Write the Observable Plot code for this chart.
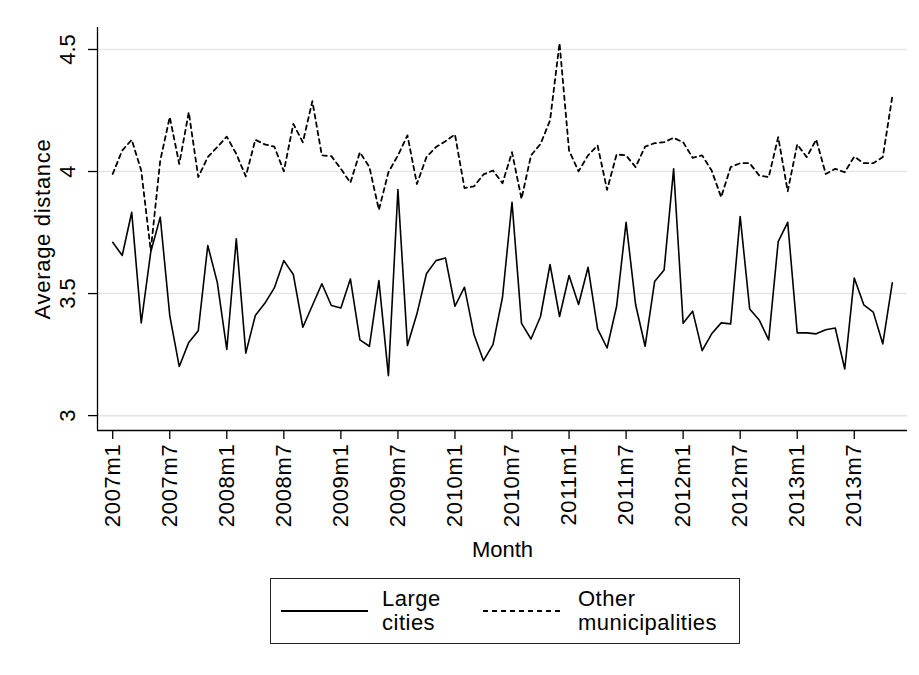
<!DOCTYPE html>
<html><head><meta charset="utf-8">
<script src="https://cdn.jsdelivr.net/npm/d3@7"></script>
<script src="https://cdn.jsdelivr.net/npm/@observablehq/plot@0.6"></script>
<style>
body{margin:0;background:#fff;font-family:"Liberation Sans",Arial,sans-serif;}
#wrap{position:relative;width:919px;height:675px;overflow:hidden;}
#legend{position:absolute;left:270px;top:578px;width:468px;height:64px;border:1.3px solid #222;box-sizing:content-box;}
#legend svg{position:absolute;left:0;top:0;}
.lab{position:absolute;font-size:22px;line-height:24px;letter-spacing:0.5px;color:#000;top:8px;}
.sp{letter-spacing:0.7px;}
</style></head><body>
<div id="wrap"><div id="chart"></div>
<div id="legend">
<svg width="468" height="64">
<line x1="10" x2="97" y1="32" y2="32" stroke="#000" stroke-width="1.8"/>
<line x1="212" x2="292" y1="32" y2="32" stroke="#000" stroke-width="1.8" stroke-dasharray="5,4"/>
</svg>
<div class="lab" style="left:111px">Large<br>cities</div>
<div class="lab" style="left:307px">Other<br>municipalities</div>
</div></div>
<script>
const tickPos = [0, 6, 12, 18, 24, 30, 36, 42, 48, 54, 60, 66, 72, 78];
const tickLabels = ["2007m1","2007m7","2008m1","2008m7","2009m1","2009m7","2010m1","2010m7","2011m1","2011m7","2012m1","2012m7","2013m1","2013m7"];
const yTicks = [3, 3.5, 4, 4.5];
const largeCities = [3.710,3.656,3.833,3.380,3.670,3.813,3.410,3.201,3.300,3.348,3.697,3.546,
3.271,3.724,3.256,3.410,3.460,3.523,3.635,3.578,3.362,3.451,3.540,3.451,
3.441,3.560,3.310,3.284,3.553,3.164,3.926,3.287,3.417,3.581,3.635,3.646,
3.448,3.526,3.332,3.225,3.291,3.485,3.874,3.378,3.314,3.406,3.619,3.406,
3.574,3.455,3.608,3.355,3.277,3.447,3.792,3.455,3.284,3.549,3.597,4.011,
3.378,3.428,3.266,3.335,3.380,3.376,3.816,3.437,3.392,3.310,3.713,3.792,
3.339,3.339,3.335,3.352,3.359,3.191,3.564,3.454,3.424,3.294,3.544];
const otherMunicipalities = [3.990,4.086,4.130,4.004,3.676,4.045,4.223,4.031,4.243,3.977,4.059,4.100,
4.143,4.072,3.980,4.130,4.111,4.102,4.001,4.195,4.120,4.288,4.066,4.063,
4.011,3.954,4.079,4.018,3.843,3.997,4.066,4.148,3.949,4.059,4.100,4.124,
4.152,3.932,3.939,3.988,4.004,3.952,4.079,3.888,4.066,4.113,4.209,4.526,
4.086,4.001,4.066,4.107,3.925,4.070,4.066,4.018,4.102,4.116,4.120,4.138,
4.120,4.056,4.066,4.004,3.895,4.018,4.034,4.034,3.984,3.977,4.141,3.919,
4.111,4.059,4.131,3.990,4.011,3.997,4.061,4.034,4.034,4.059,4.307];

const xDomain = [-1.6, 83.6];
const yDomain = [2.939, 4.59];
const font = "'Liberation Sans', Arial, sans-serif";

const chart = Plot.plot({
  width: 919, height: 570,
  marginLeft: 97, marginRight: 12, marginTop: 27, marginBottom: 140,
  x: {domain: xDomain},
  y: {domain: yDomain},
  style: {fontFamily: font, fontSize: "22px", color: "#000", background: "#fff"},
  marks: [
    Plot.gridY(yTicks, {stroke: "#e6e6e6", strokeOpacity: 1, strokeWidth: 1.6}),
    Plot.ruleX([xDomain[0]], {stroke: "#000", strokeWidth: 1.3}),
    Plot.ruleY([yDomain[0]], {stroke: "#000", strokeWidth: 1.3}),
    Plot.axisY(yTicks, {tickSize: 9, fill: "none", strokeWidth: 1.3}),
    Plot.axisX(tickPos, {tickSize: 9, fill: "none", strokeWidth: 1.3}),
    Plot.text(yTicks, {y: d => d, text: d => String(d), frameAnchor: "left", dx: -30, rotate: -90, textAnchor: "middle", lineAnchor: "middle", fontSize: 22}),
    Plot.text(tickPos, {x: d => d, text: (d, i) => tickLabels[i], frameAnchor: "bottom", dy: 13, rotate: -90, textAnchor: "end", lineAnchor: "middle", fontSize: 22, className: "sp"}),
    Plot.text(["Average distance"], {frameAnchor: "left", dx: -55, rotate: -90, textAnchor: "middle", lineAnchor: "middle", fontSize: 22, className: "sp"}),
    Plot.text(["Month"], {frameAnchor: "bottom", dy: 119, textAnchor: "middle", lineAnchor: "middle", fontSize: 22}),
    Plot.line(largeCities, {x: (d, i) => i, y: d => d, stroke: "#000", strokeWidth: 1.6}),
    Plot.line(otherMunicipalities, {x: (d, i) => i, y: d => d, stroke: "#000", strokeWidth: 1.8, strokeDasharray: "4.5,4"})
  ]
});
document.getElementById("chart").appendChild(chart);
</script>
</body></html>
